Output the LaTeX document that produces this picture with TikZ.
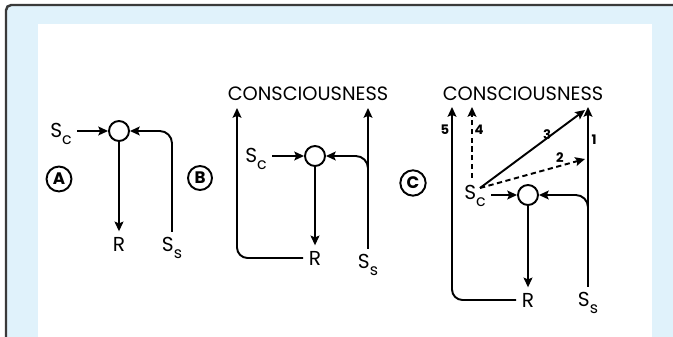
\documentclass[tikz,border=0pt]{standalone}
\usepackage{fontspec}
\setmainfont{Poppins}
\usetikzlibrary{arrows.meta,calc}
\newcommand\lowsub[1]{\raisebox{-0.6ex}{\small #1}}
\definecolor{framefill}{HTML}{E0F2FB}
\definecolor{frameline}{HTML}{3A3A3A}

\begin{document}
\begin{tikzpicture}[x=0.02cm, y=-0.02cm,
    arr/.style={-{Stealth[length=5.5pt,width=5pt,inset=1pt]}, line width=1.1pt},
    dasharr/.style={arr, dash pattern=on 3pt off 2pt},
    unit/.style={draw, circle, line width=1.1pt, minimum size=0.4cm, inner sep=0pt},
    lbl/.style={font=\fontsize{11.5}{13}\selectfont, inner sep=3pt},
    word/.style={font=\fontsize{11}{13}\selectfont, inner sep=1pt},
    num/.style={font=\fontsize{7.5}{9}\selectfont\bfseries, inner sep=1pt},
    tag/.style={draw, circle, line width=1.1pt, inner sep=1.6pt,
                font=\fontsize{9.5}{10}\selectfont\bfseries},
  ]
  \useasboundingbox (0,0) rectangle (673,337);
  % frame
  \fill[framefill] (6,5) rectangle (673,337);
  \draw[frameline, line width=1.4pt, rounded corners=3pt] (6,337) -- (6,5) -- (673,5);
  \fill[white] (38,24) rectangle (652,337);

  % A
  \node[tag] (tagA) at (59,179) {A};
  \node[lbl] (scA) at (61,134) {S\lowsub{c}};
  \node[unit] (oA) at (119,131) {};
  \node[lbl] (rA) at (119,244) {R};
  \node[lbl] (ssA) at (172,248) {S\lowsub{s}};
  \draw[arr] (scA.east |- oA) -- (oA);
  \draw[arr] (oA) -- (rA);
  \draw[arr, rounded corners=7] (ssA.north) |- (oA);

  % B
  \node[word] (conB) at (308,94) {CONSCIOUSNESS};
  \node[tag] (tagB) at (200,178) {B};
  \node[lbl] (scB) at (256,159) {S\lowsub{c}};
  \node[unit] (oB) at (315,156) {};
  \node[lbl] (rB) at (315,258) {R};
  \node[lbl] (ssB) at (368,265) {S\lowsub{s}};
  \coordinate (upB) at (237,108);
  \coordinate (brB) at (ssB.north |- 0,170);
  \draw[arr] (scB.east |- oB) -- (oB);
  \draw[arr] (oB) -- (rB);
  \draw[arr, rounded corners=6] (rB.west) -| (upB);
  \draw[arr] (ssB.north) -- (ssB.north |- upB);
  \draw[arr, rounded corners=7] (brB) |- (oB);

  % C
  \node[word] (conC) at (523,94) {CONSCIOUSNESS};
  \node[tag] (tagC) at (413,183) {C};
  \node[lbl] (scC) at (475,196) {S\lowsub{c}};
  \node[unit] (oC) at (528,195) {};
  \node[lbl] (rC) at (528,300) {R};
  \node[lbl] (ssC) at (588,303) {S\lowsub{s}};
  \coordinate (fan) at (480,188);
  \coordinate (fan4) at (472,178);
  \coordinate (up5) at (452,107);
  \coordinate (up4) at (472,107);
  \coordinate (up3) at (585,110);
  \coordinate (up2) at (585,159);
  \coordinate (brC) at (ssC.north |- 0,203);
  \draw[arr] (scC.east |- oC) -- (oC);
  \draw[arr] (oC) -- (rC);
  \draw[arr, rounded corners=6] (rC.west) -| (up5);
  \draw[dasharr] (fan4) -- (up4);
  \draw[arr] (fan) -- (up3);
  \draw[dasharr] (fan) -- (up2);
  \draw[arr] (ssC.north) -- (ssC.north |- up5);
  \draw[arr, rounded corners=7] (brC) |- (oC);
  \node[num] (n5) at (445,130) {5};
  \node[num] (n4) at (479,130) {4};
  \node[num] (n3) at (547,135) {3};
  \node[num] (n2) at (560,158) {2};
  \node[num] (n1) at (594,140) {1};
\end{tikzpicture}
\end{document}
